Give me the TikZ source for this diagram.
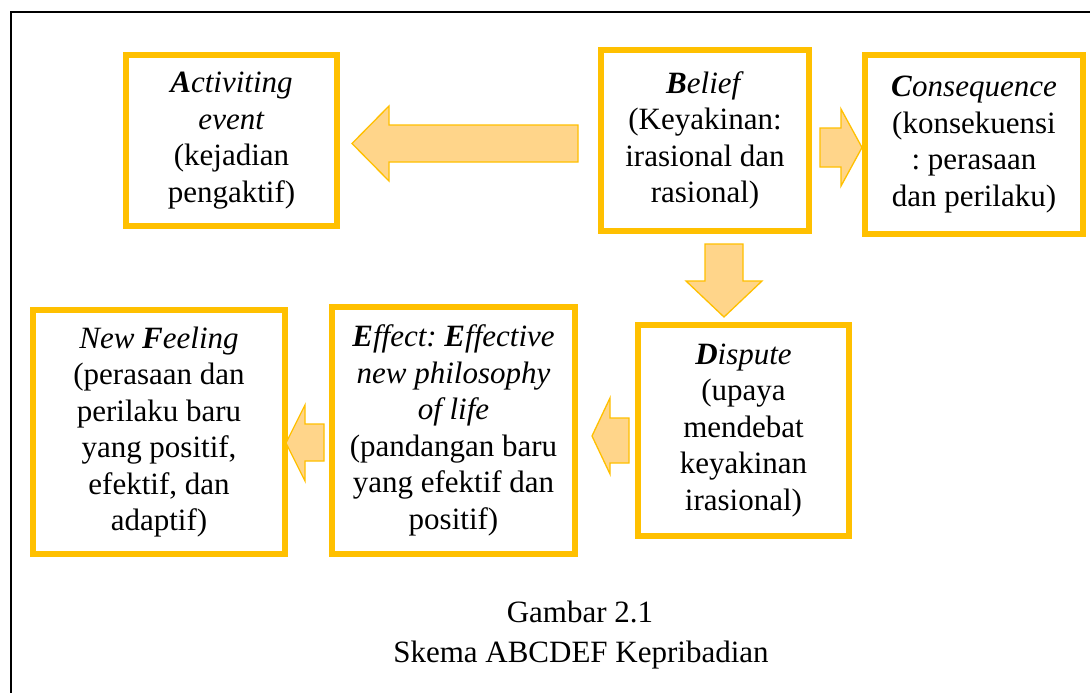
\documentclass[tikz,border=0pt]{standalone}
\usepackage{fontspec}
\setmainfont{Liberation Serif}
\usepackage{xcolor}
\definecolor{boxGold}{HTML}{FFC000}
\definecolor{arrowFill}{HTML}{FFD58A}
\usepackage{tikz}
\usetikzlibrary{positioning, calc}
\tikzset{
    % Yellow framed boxes
    stepbox/.style={
        rectangle,
        draw=boxGold,
        line width=6pt,
        fill=white,
        align=center,
        inner sep=4pt,
        font=\fontsize{31}{36.5}\selectfont\frenchspacing,
    },
    % Block arrows between the boxes
    blockarrow/.style={
        fill=arrowFill,
        draw=boxGold,
        line width=1.3pt,
        line join=miter,
    },
    % Caption lines
    caption text/.style={
        font=\fontsize{31}{36}\selectfont,
        inner sep=0pt,
    },
}
\newcommand{\bi}[1]{\textbf{\textit{#1}}}

\begin{document}
\begin{tikzpicture}[x=1pt, y=-1pt]
    \clip (0,0) rectangle (1090,693);
    \fill[white] (0,0) rectangle (1090,693);
    % outer frame
    \draw[line width=2pt] (11,12) rectangle (1110,720);

    \node (act) [stepbox, minimum width=211pt, minimum height=171pt] at (231.5,140.5)
        {\bi{A}\textit{ctiviting}\\ \textit{event}\\ (kejadian\\ pengaktif)};
    \node (bel) [stepbox, minimum width=208pt, minimum height=181pt] at (705,140.5)
        {\bi{B}\textit{elief}\\ (Keyakinan:\\ irasional dan\\ rasional)};
    \node (con) [stepbox, minimum width=218pt, minimum height=179pt] at (974,144.5)
        {\bi{C}\textit{onsequence}\\ (konsekuensi\\ : perasaan\\ dan perilaku)};
    \node (dis) [stepbox, minimum width=211pt, minimum height=211pt] at (743.5,430.5)
        {\bi{D}\textit{ispute}\\ (upaya\\ mendebat\\ keyakinan\\ irasional)};
    \node (eff) [stepbox, minimum width=243pt, minimum height=247pt] at (453.5,430.5)
        {\bi{E}\textit{ffect: }\bi{E}\textit{ffective}\\ \textit{new philosophy}\\ \textit{of life}\\ (pandangan baru\\ yang efektif dan\\ positif)};
    \node (fee) [stepbox, minimum width=252pt, minimum height=244pt] at (159,432)
        {\textit{New }\bi{F}\textit{eeling}\\ (perasaan dan\\ perilaku baru\\ yang positif,\\ efektif, dan\\ adaptif)};

    % arrows
    \draw[blockarrow] (578,125) -- (389,125) -- (389,106) -- (352,143.5)
        -- (389,181) -- (389,162) -- (578,162) -- cycle;
    \draw[blockarrow] (820,128) -- (841,128) -- (841,109) -- (862,147.5)
        -- (841,186) -- (841,167) -- (820,167) -- cycle;
    \draw[blockarrow] (705,244) -- (743,244) -- (743,281) -- (762,281)
        -- (724,317) -- (686,281) -- (705,281) -- cycle;
    \draw[blockarrow] (629,418) -- (610,418) -- (610,398) -- (592,436)
        -- (610,474) -- (610,463) -- (629,463) -- cycle;
    \draw[blockarrow] (324,424) -- (305,424) -- (305,405) -- (286,443)
        -- (305,481) -- (305,461) -- (324,461) -- cycle;

    \node (cap1) [caption text] at (580,612) {Gambar 2.1};
    \node (cap2) [caption text] at (581,655) {Skema ABCDEF Kepribadian};
\end{tikzpicture}
\end{document}
